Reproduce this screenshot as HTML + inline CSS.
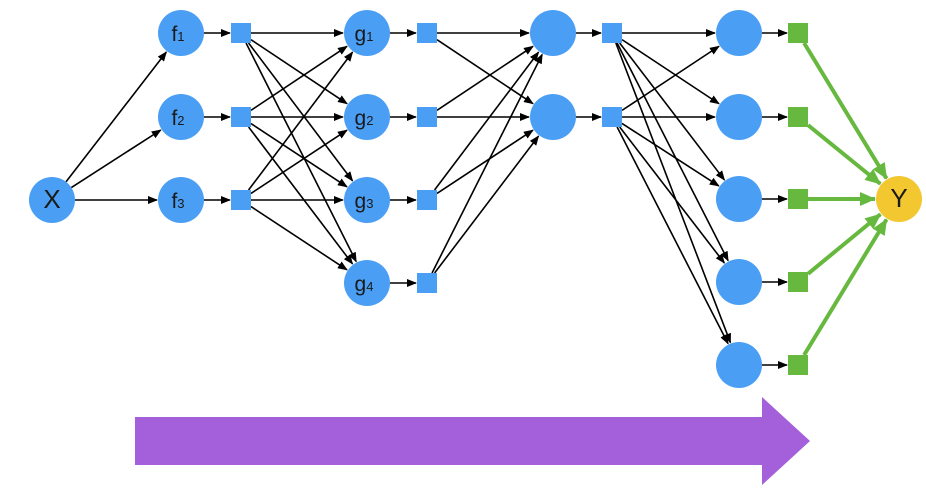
<!DOCTYPE html>
<html><head><meta charset="utf-8"><style>
html,body{margin:0;padding:0;background:#fff;width:926px;height:497px;overflow:hidden}
svg{display:block}
text{font-family:"Liberation Sans",sans-serif;fill:#1a1a1a}
</style></head><body>
<svg id="s" width="926" height="497" viewBox="0 0 926 497" xmlns="http://www.w3.org/2000/svg">
<defs>
<marker id="a" markerWidth="10" markerHeight="8" refX="9" refY="4" orient="auto" markerUnits="userSpaceOnUse"><path d="M0,0 L10,4 L0,8 Z" fill="#000"/></marker>
<marker id="g" markerWidth="16" markerHeight="14" refX="15" refY="7" orient="auto" markerUnits="userSpaceOnUse"><path d="M0,0 L16,7 L0,14 Z" fill="#66b83e"/></marker>
</defs>
<g id="edges"></g>
<g id="nodes"></g>
<polygon points="135,417 762,417 762,397 810,441 762,485 762,465 135,465" fill="#a45fdb"/>
</svg>
<script>
var NS="http://www.w3.org/2000/svg";
var E=document.getElementById("edges"),N=document.getElementById("nodes");
function el(p,t,a){var e=document.createElementNS(NS,t);for(var k in a)e.setAttribute(k,a[k]);p.appendChild(e);return e;}
var BLUE="#4a9ff5",GREEN="#66b83e";
var ys3=[33,117,200],ys4=[33,117,200,283],ys2=[33,117],ys5=[33,117,199,282,365];
var R=23,H=10;
function circ(x,y,c,lab,sub){el(N,"circle",{cx:x,cy:y,r:R,fill:c||BLUE});
 if(lab){var t=el(N,"text",{x:x,y:y+8,"text-anchor":"middle","font-size":lab=="X"||lab=="Y"?26:21});t.textContent=lab;
 if(sub){var s=el(t,"tspan",{"font-size":13,dy:0});s.textContent=sub;t.setAttribute("x",x-3);}}}
function sq(x,y,c){el(N,"rect",{x:x-H,y:y-H,width:20,height:20,fill:c||BLUE});}
// edge from (x1,y1) src type to (x2,y2) dest type; type 'c' circle 's' square
function edge(x1,y1,t1,x2,y2,t2,green){
 var dx=x2-x1,dy=y2-y1,L=Math.sqrt(dx*dx+dy*dy),ux=dx/L,uy=dy/L;
 var o1=t1=='c'?R:(H/Math.max(Math.abs(ux),Math.abs(uy)));
 var o2=t2=='c'?R+1:(H/Math.max(Math.abs(ux),Math.abs(uy))+1);
 el(E,"line",{x1:x1+ux*o1,y1:y1+uy*o1,x2:x2-ux*o2,y2:y2-uy*o2,stroke:green?GREEN:"#000","stroke-width":green?4:1.6,"marker-end":green?"url(#g)":"url(#a)"});
}
var Xx=52,Xy=200,fx=181,fsx=241,gx=367,gsx=427,hx=553,hsx=612,kx=739,ksx=798,Yx=899,Yy=199;
ys3.forEach(function(y){edge(Xx,Xy,'c',fx,y,'c');edge(fx,y,'c',fsx,y,'s');
 ys4.forEach(function(y2){edge(fsx,y,'s',gx,y2,'c');});});
ys4.forEach(function(y){edge(gx,y,'c',gsx,y,'s');ys2.forEach(function(y2){edge(gsx,y,'s',hx,y2,'c');});});
ys2.forEach(function(y){edge(hx,y,'c',hsx,y,'s');ys5.forEach(function(y2){edge(hsx,y,'s',kx,y2,'c');});});
ys5.forEach(function(y){edge(kx,y,'c',ksx,y,'s');edge(ksx,y,'s',Yx,Yy,'c',true);});
circ(Xx,Xy,null,"X");
ys3.forEach(function(y,i){circ(fx,y,null,"f",""+(i+1));sq(fsx,y);});
ys4.forEach(function(y,i){circ(gx,y,null,"g",""+(i+1));sq(gsx,y);});
ys2.forEach(function(y){circ(hx,y);sq(hsx,y);});
ys5.forEach(function(y){circ(kx,y);sq(ksx,y,GREEN);});
circ(Yx,Yy,"#f2c72f","Y");
</script>
</body></html>
